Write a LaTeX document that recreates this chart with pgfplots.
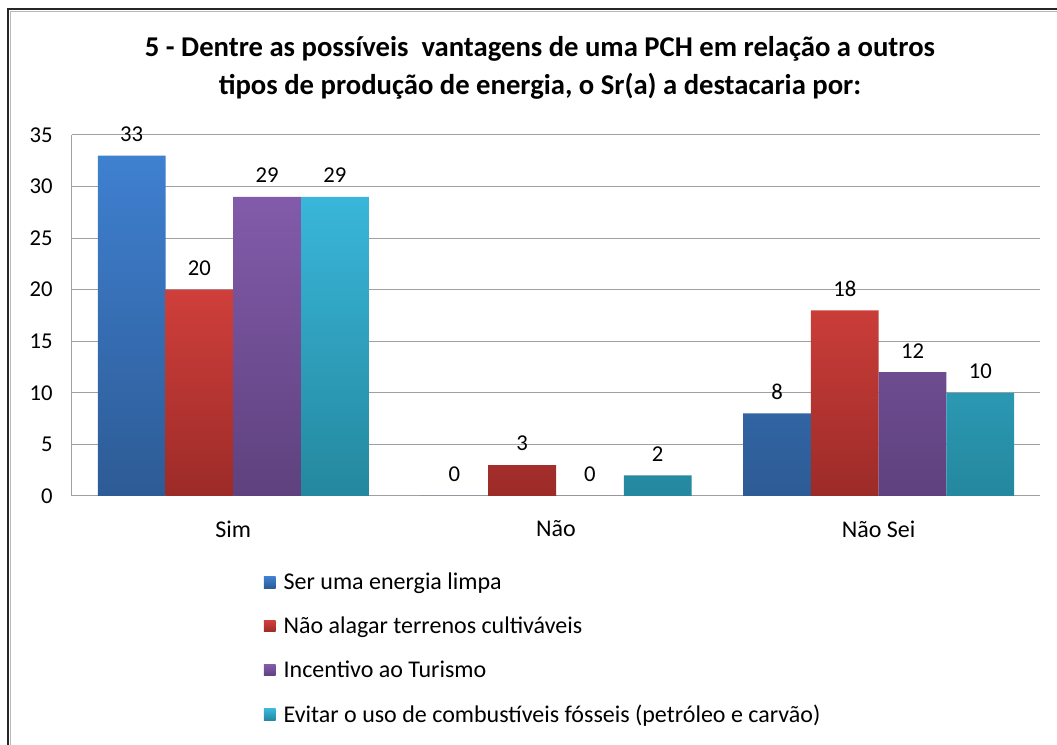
\documentclass[border=0pt]{standalone}
\usepackage{fontspec}
\setmainfont{Carlito}
\usepackage{pgfplots}
\pgfplotsset{compat=1.18}
\definecolor{bT}{HTML}{3F80D0}
\definecolor{bB}{HTML}{2D5B95}
\definecolor{rT}{HTML}{CF3F3B}
\definecolor{rB}{HTML}{9C2B28}
\definecolor{pT}{HTML}{825BAA}
\definecolor{pB}{HTML}{5E417E}
\definecolor{cT}{HTML}{39B6DA}
\definecolor{cB}{HTML}{24889E}
\definecolor{gridgray}{HTML}{A0A0A0}
\begin{document}
\begin{tikzpicture}
\useasboundingbox (0,0) rectangle (792.75pt,558.75pt);
\draw[line width=1.6pt, black!85] (6.2pt,-20pt) -- (6.2pt,551.8pt) -- (820pt,551.8pt);
\draw[line width=0.8pt, gray!55] (7.8pt,-20pt) -- (7.8pt,550.2pt) -- (820pt,550.2pt);
\node[font=\fontsize{21.5}{25}\selectfont\bfseries, anchor=base, inner sep=0pt] at (405pt,516pt) {5 - Dentre as possíveis\ \ vantagens de uma PCH em relação a outros};
\node[font=\fontsize{21.5}{25}\selectfont\bfseries, anchor=base, inner sep=0pt] at (405pt,487.5pt) {tipos de produção de energia, o Sr(a) a destacaria por:};
\begin{axis}[
  at={(54pt,186.75pt)}, anchor=south west,
  width=726pt, height=270.75pt, scale only axis,
  ybar=0pt, bar width=0.21,
  xmin=-0.5, xmax=2.5, ymin=0, ymax=35,
  xtick={0,1,2}, xticklabels={Sim,Não,Não Sei},
  ytick={0,5,10,15,20,25,30,35},
  axis x line*=bottom, axis y line*=left,
  axis line style={draw=gridgray, line width=0.75pt, -},
  major tick length=0pt,
  ymajorgrids, grid style={gridgray, line width=0.75pt},
  tick label style={font=\fontsize{17}{20}\selectfont, text=black},
  xticklabel style={yshift=-15pt, font=\fontsize{18}{21}\selectfont},
  yticklabel style={xshift=-11pt},
  /pgf/number format/assume math mode=true,
  nodes near coords,
  every node near coord/.append style={font=\fontsize{17}{20}\selectfont, text=black, yshift=7pt},
  legend cell align=left,
  legend style={at={(0.198,-0.205)}, anchor=north west, draw=none, fill=none, inner sep=0pt,
    row sep=15pt, font=\fontsize{18}{21}\selectfont,
    /tikz/every odd column/.append style={column sep=4pt}},
  legend image code/.code={\path[#1,draw=none] (0pt,-4.3pt) rectangle (8.8pt,4.3pt);},
]
\addplot[draw=none, top color=bT, bottom color=bB] coordinates {(0,33) (1,0) (2,8)};
\addplot[draw=none, top color=rT, bottom color=rB] coordinates {(0,20) (1,3) (2,18)};
\addplot[draw=none, top color=pT, bottom color=pB] coordinates {(0,29) (1,0) (2,12)};
\addplot[draw=none, top color=cT, bottom color=cB] coordinates {(0,29) (1,2) (2,10)};
\legend{Ser uma energia limpa, Não alagar terrenos cultiváveis, Incentivo ao Turismo, Evitar o uso de combustíveis fósseis (petróleo e carvão)}
\end{axis}
\end{tikzpicture}
\end{document}
